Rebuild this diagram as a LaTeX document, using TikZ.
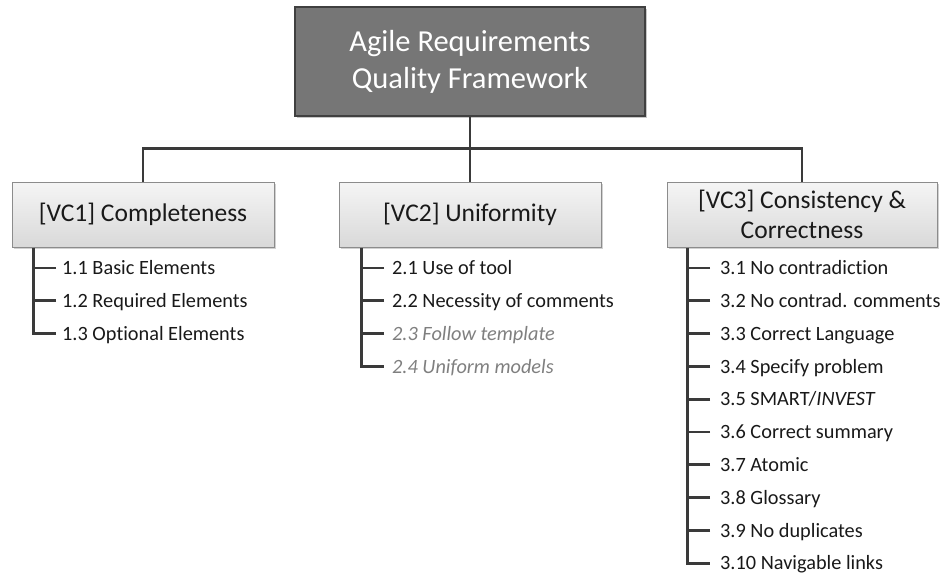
\documentclass[tikz,border=0pt]{standalone}
\usepackage{fontspec}
\setmainfont[RawFeature={-liga;-clig;-calt;-dlig}]{Carlito}
\usetikzlibrary{shadows}
\definecolor{topfill}{HTML}{767676}
\definecolor{topline}{HTML}{404040}
\definecolor{boxline}{HTML}{8C8C8C}
\definecolor{conn}{HTML}{3A3A3A}
\definecolor{greytext}{HTML}{7F7F7F}
\begin{document}
\begin{tikzpicture}[x=1pt,y=-1pt,
  topbox/.style={draw=topline, line width=1.2pt, fill=topfill, text=white,
    minimum width=350pt, minimum height=109pt, align=center, inner sep=0pt,
    font=\fontsize{30.5}{37}\selectfont,
    drop shadow={shadow xshift=2pt, shadow yshift=-2pt, fill=black!22, opacity=1}},
  catbox/.style={draw=boxline, line width=1pt, top color=white!96!black, bottom color=black!15,
    minimum height=65pt, align=center, inner sep=0pt, text=black!90,
    font=\fontsize{25.5}{30}\selectfont,
    drop shadow={shadow xshift=2pt, shadow yshift=-2pt, fill=black!18, opacity=1}},
  item/.style={anchor=west, inner sep=0pt, text height=13.2pt, text depth=0pt,
    font=\fontsize{20.3}{24}\selectfont, text=black!90},
  greyitem/.style={item, text=greytext, font=\fontsize{20.3}{24}\selectfont\itshape},
  conn/.style={draw=conn, line width=2.8pt},
  tick/.style={draw=conn, line width=2.8pt}
]
\useasboundingbox (0,0) rectangle (943,574);

\node[topbox] (top) at (470,61.5) {Agile Requirements\\Quality Framework};

\node[catbox, minimum width=262pt] (b1) at (143,214.5) {[VC1] Completeness};
\node[catbox, minimum width=262pt] (b2) at (470,214.5) {[VC2] Uniformity};
\node[catbox, minimum width=270pt] (b3) at (802,214.5) {[VC3] Consistency \&\\Correctness};

\draw[conn] (top.south) -- (b2.north);
\draw[conn] (top.south) ++(0,31.5) coordinate (hub) -| (b1.north);
\draw[conn] (hub) -| (b3.north);

% VC1 items
\node[item] (i11) at (62,268) {1.1 Basic Elements};
\node[item] (i12) at (62,300.8) {1.2 Required Elements};
\node[item] (i13) at (62,333.6) {1.3 Optional Elements};
\coordinate (v1) at ([xshift=22pt]b1.south west);
\draw[tick] (v1) |- ([xshift=-6pt]i13.west);
\foreach \n in {i11,i12} \draw[tick] ([xshift=-6pt]\n.west) -- (v1 |- \n.west);

% VC2 items
\node[item] (i21) at (392,268) {2.1 Use of tool};
\node[item] (i22) at (392,300.8) {2.2 Necessity of comments};
\node[greyitem] (i23) at (392,333.6) {2.3 Follow template};
\node[greyitem] (i24) at (392,366.4) {2.4 Uniform models};
\coordinate (v2) at ([xshift=23pt]b2.south west);
\draw[tick] (v2) |- ([xshift=-8pt]i24.west);
\foreach \n in {i21,i22,i23} \draw[tick] ([xshift=-8pt]\n.west) -- (v2 |- \n.west);

% VC3 items
\node[item] (i31) at (720,268) {3.1 No contradiction};
\node[item] (i32) at (720,300.8) {3.2 No contrad. comments};
\node[item] (i33) at (720,333.6) {3.3 Correct Language};
\node[item] (i34) at (720,366.4) {3.4 Specify problem};
\node[item] (i35) at (720,399.2) {3.5 SMART/\textit{INVEST}};
\node[item] (i36) at (720,432) {3.6 Correct summary};
\node[item] (i37) at (720,464.8) {3.7 Atomic};
\node[item] (i38) at (720,497.6) {3.8 Glossary};
\node[item] (i39) at (720,530.4) {3.9 No duplicates};
\node[item] (i310) at (720,563.2) {3.10 Navigable links};
\coordinate (v3) at ([xshift=21pt]b3.south west);
\draw[tick] (v3) |- ([xshift=-10pt]i310.west);
\foreach \n in {i31,i32,i33,i34,i35,i36,i37,i38,i39} \draw[tick] ([xshift=-10pt]\n.west) -- (v3 |- \n.west);
\end{tikzpicture}
\end{document}
